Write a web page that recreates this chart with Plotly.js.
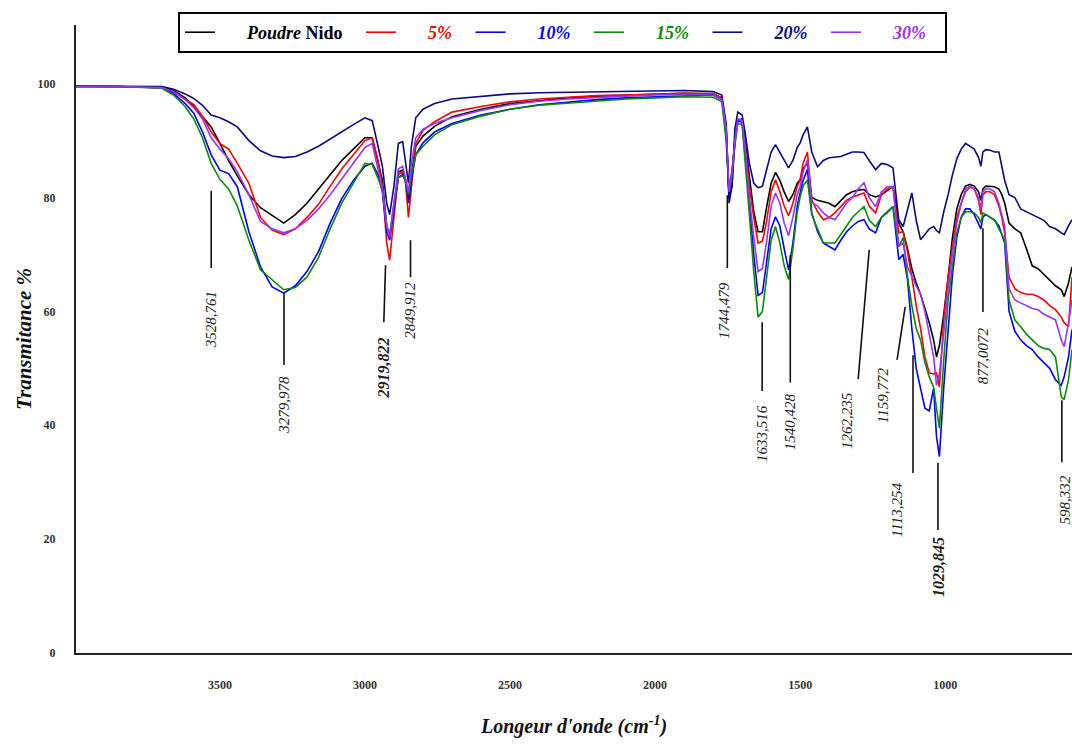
<!DOCTYPE html>
<html>
<head>
<meta charset="utf-8">
<script src="https://cdn.plot.ly/plotly-3.0.1.min.js"></script>
<style>html,body{margin:0;padding:0;background:#fff;}#chart{width:1072px;height:744px;}</style>
</head>
<body>
<div id="chart"></div>
<script>
// Wavenumber grid (cm-1)
const wavenumber = [4000,3850,3700,3660,3620,3590,3560,3530,3500,3470,
3440,3400,3360,3320,3280,3240,3200,3160,3120,3080,
3040,3000,2975,2955,2940,2925,2915,2900,2885,2870,
2860,2850,2840,2825,2800,2760,2700,2600,2500,2400,
2300,2200,2100,2000,1900,1800,1770,1755,1745,1735,
1725,1715,1700,1690,1675,1660,1645,1630,1615,1600,
1585,1570,1555,1540,1525,1510,1500,1490,1475,1460,
1440,1420,1400,1380,1360,1340,1320,1300,1280,1262,
1240,1220,1200,1180,1160,1145,1130,1115,1100,1085,
1070,1055,1040,1030,1020,1005,990,975,960,945,
930,915,900,885,877,870,860,845,830,815,
805,795,780,760,740,720,700,680,660,640,
620,600,590,575,563];

const poudreNido = [99.5,99.5,99.4,98.8,97.5,96.0,94.2,92.4,89.5,86.5,
83.8,80.5,78.2,76.8,75.5,77.0,79.0,81.5,84.0,86.5,
88.5,90.5,90.5,86.0,83.0,75.0,73.0,78.0,84.5,84.8,
83.0,79.5,84.0,89.0,90.8,92.5,94.2,95.5,96.5,97.0,
97.5,97.8,98.0,98.2,98.3,98.2,97.5,92.0,80.0,82.0,
90.0,93.5,93.8,90.0,83.5,77.5,74.0,74.0,78.5,82.5,
84.4,83.0,81.0,79.3,80.5,82.5,83.1,85.0,86.1,80.0,
79.5,79.3,79.0,78.4,79.5,80.5,81.0,81.3,81.4,80.5,
80.1,80.5,81.2,81.9,75.5,74.0,71.0,67.5,65.0,63.0,
60.5,58.0,55.0,52.0,54.0,59.5,66.0,73.0,78.0,80.5,
82.0,82.3,82.0,81.0,79.5,81.5,82.0,82.0,81.9,81.5,
80.5,79.0,75.5,74.5,73.8,71.0,68.0,67.5,66.5,65.6,
64.5,63.8,62.6,65.0,67.8];

const pct5 = [99.5,99.5,99.3,98.6,97.3,96.3,94.3,91.5,89.5,88.5,
86.0,82.5,76.5,74.3,73.5,74.5,76.5,78.8,82.0,85.0,
87.5,90.0,90.5,86.5,82.0,72.0,69.0,76.0,84.0,84.5,
82.5,76.5,82.0,89.5,91.8,93.3,95.0,96.0,96.8,97.3,
97.6,97.9,98.0,98.2,98.3,98.2,97.5,92.0,81.0,84.0,
90.0,93.8,93.5,89.0,82.0,76.5,72.0,72.3,76.0,81.0,
83.1,81.0,78.5,76.8,79.0,82.0,83.1,86.0,88.0,79.6,
77.5,76.1,76.5,77.3,78.5,79.5,80.1,80.5,80.8,78.5,
77.3,80.5,81.5,81.9,73.8,74.0,70.5,66.0,61.0,57.0,
52.0,49.2,49.0,49.2,46.7,58.5,66.0,71.4,76.5,79.0,
81.0,81.8,81.5,79.5,77.0,80.5,81.0,81.0,80.5,78.5,
76.5,73.8,66.0,64.0,63.3,63.0,63.0,62.6,62.0,61.0,
60.3,59.0,58.0,57.3,66.0];

const pct10 = [99.5,99.5,99.3,98.3,96.5,94.8,91.5,87.5,84.8,84.2,
81.9,74.0,67.8,64.3,63.2,64.5,67.0,70.5,75.5,79.8,
83.0,85.5,86.0,84.0,81.0,74.0,72.5,78.0,83.5,84.0,
83.0,79.0,83.0,87.5,89.6,91.5,93.0,94.5,95.5,96.3,
96.8,97.2,97.5,97.7,97.9,98.0,97.2,91.0,80.5,84.0,
90.0,93.5,93.2,88.0,79.0,70.0,62.8,63.3,69.0,74.5,
76.6,75.0,71.0,67.3,72.0,78.5,80.8,83.0,84.9,77.3,
74.0,72.0,71.4,70.8,72.5,74.0,75.0,75.8,76.1,74.5,
73.8,76.5,77.5,78.4,69.1,70.0,65.6,57.0,50.0,46.7,
43.0,42.5,46.5,38.0,34.5,46.7,57.5,66.5,73.0,76.5,
78.0,78.0,77.0,75.5,74.5,76.6,77.0,76.5,76.0,75.0,
73.5,72.0,60.0,56.5,55.0,54.0,53.3,52.0,51.0,50.0,
48.0,47.0,48.5,52.0,56.8];

const pct15 = [99.5,99.5,99.2,98.0,96.0,93.8,90.5,86.0,83.2,81.5,
78.5,72.5,67.3,65.5,63.8,64.2,66.0,69.5,74.5,79.0,
82.5,86.0,85.8,83.5,81.5,75.0,73.5,79.0,83.5,83.8,
83.0,80.5,84.0,87.5,89.0,91.0,92.8,94.3,95.5,96.2,
96.6,97.0,97.3,97.5,97.7,97.6,96.8,90.0,81.0,85.0,
89.5,93.0,92.8,87.0,77.0,67.0,59.0,60.0,66.5,72.5,
74.9,72.0,68.0,65.6,71.0,77.5,80.1,82.0,83.1,77.0,
74.5,72.0,72.0,72.0,73.5,75.0,76.5,77.5,78.4,76.0,
74.9,76.5,77.3,78.4,71.4,73.0,66.1,61.0,57.0,55.0,
51.0,48.5,46.7,43.0,39.5,51.5,62.0,68.0,73.8,76.5,
77.5,77.5,77.3,76.5,75.5,77.3,77.0,76.5,76.1,74.5,
73.5,72.6,62.0,58.5,57.3,56.0,55.0,54.0,53.5,53.3,
52.0,45.0,44.5,48.0,53.3];

const pct20 = [99.6,99.6,99.5,99.0,98.2,97.4,96.2,94.5,94.0,93.3,
92.4,90.0,88.2,87.3,87.0,87.2,88.0,89.0,90.3,91.5,
92.8,94.0,93.5,89.0,85.5,79.0,77.0,82.0,89.5,89.8,
86.0,82.5,89.0,94.0,95.5,96.5,97.3,97.8,98.2,98.4,
98.5,98.6,98.7,98.7,98.8,98.6,98.0,93.0,79.0,82.0,
92.0,95.0,94.5,91.5,86.0,82.5,81.7,82.0,85.0,88.0,
89.3,88.0,86.5,85.2,86.5,88.8,89.6,91.0,92.4,88.0,
85.4,86.5,87.0,87.1,87.2,87.6,88.0,88.0,87.9,86.5,
84.9,86.0,85.8,85.2,76.1,74.9,78.0,80.8,76.0,72.6,
73.5,74.5,74.9,74.2,73.8,77.5,80.5,84.0,86.8,88.5,
89.5,89.0,88.5,87.0,85.5,88.0,88.4,88.3,88.0,88.0,
85.5,83.0,80.5,80.0,78.0,77.5,77.0,76.6,76.0,74.9,
74.5,73.8,73.5,75.0,76.1];

const pct30 = [99.5,99.5,99.3,98.6,97.2,95.8,93.8,90.5,88.5,86.8,
84.5,80.5,75.8,74.5,73.8,74.5,76.0,78.0,80.5,83.3,
86.0,88.8,89.5,85.0,81.5,75.0,73.0,79.0,85.0,85.5,
83.0,81.0,86.0,90.5,92.0,93.0,94.0,95.3,96.3,96.9,
97.3,97.6,97.8,98.0,98.1,98.0,97.3,92.0,81.0,84.0,
90.0,93.8,93.5,89.0,80.0,73.0,67.0,67.5,72.5,78.5,
80.8,79.0,75.5,73.3,76.5,80.5,81.9,84.5,86.6,79.1,
78.5,77.3,76.5,76.1,77.5,79.0,80.0,81.5,82.6,80.0,
78.4,81.0,81.9,81.9,71.4,72.0,67.8,66.0,64.5,63.0,
60.0,56.0,52.0,47.0,49.0,56.2,64.0,70.0,75.5,79.0,
81.5,82.0,81.5,80.0,78.0,81.0,81.5,81.5,81.0,79.0,
77.0,74.9,64.0,62.0,61.5,61.0,60.5,60.3,59.5,59.0,
58.5,55.0,53.8,58.0,62.0];

const seriesNames = ['Poudre <span style="font-style:normal">Nido</span>', '5%', '10%', '15%', '20%', '30%'];
const seriesValues = [poudreNido, pct5, pct10, pct15, pct20, pct30];
const seriesColors = ['#000000', '#ff0000', '#0000ff', '#0a8a0a', '#0a0a80', '#9933ff'];

const xTicks = [3500, 3000, 2500, 2000, 1500, 1000];
const yTicks = [0, 20, 40, 60, 80, 100];

// Peak labels (band positions, cm-1)
const peakLabels = ['3528,761','3279,978','2919,822','2849,912','1744,479','1633,516','1540,428','1262,235','1159,772','1113,254','1029,845','877,0072','598,332'];
const peakBold = [false,false,true,false,false,false,false,false,false,false,true,false,false];

// Placement of leader lines and labels (layout only)
const leaderX0 = [3530,3279,2929,2843,1751,1631,1534,1262,1138,1111,1025,870,598];
const leaderX1 = [3530,3279,2935,2843,1751,1631,1534,1300,1166,1111,1025,870,598];
const leaderY0 = [81.2,63.4,68.1,72.5,80.4,58.1,69.9,70.8,60.8,52.3,33.4,74.6,44.4];
const leaderY1 = [67.6,50.6,58.1,66.0,67.6,46.0,47.5,48.1,51.5,31.6,21.6,59.9,33.5];
const labelX   = [3530,3279,2935,2843,1760,1631,1534,1341,1214,1166,1025,870,588];
const labelY   = [58.5,43.6,50.1,60.2,60.2,38.5,40.6,40.8,45.3,25.1,15.1,52.3,26.9];

const padL = '\u00a0\u00a0\u00a0\u00a0\u00a0\u00a0';
const padR = '\u00a0\u00a0\u00a0';
const traces = seriesValues.map((vals, i) => ({
  type: 'scatter', mode: 'lines',
  x: wavenumber, y: vals,
  name: padL + '<span style="color:' + seriesColors[i] + '">' + seriesNames[i] + '</span>' + padR,
  line: {color: seriesColors[i], width: 1.6}
}));

const shapes = peakLabels.map((_, i) => ({
  type: 'line', xref: 'x', yref: 'y',
  x0: leaderX0[i], x1: leaderX1[i], y0: leaderY0[i], y1: leaderY1[i],
  line: {color: '#111', width: 1.6}
}));

const annotations = peakLabels.map((t, i) => ({
  xref: 'x', yref: 'y', x: labelX[i], y: labelY[i],
  text: peakBold[i] ? '<b>' + t + '</b>' : t,
  textangle: -90, showarrow: false,
  font: {family: 'Liberation Serif, Times New Roman, serif', size: peakBold[i] ? 16 : 15, color: '#222', style: 'italic'}
}));

const layout = {
  width: 1072, height: 744,
  margin: {l: 76, r: 0, t: 25, b: 91},
  paper_bgcolor: '#fff', plot_bgcolor: '#fff',
  showlegend: true,
  legend: {
    orientation: 'h', x: 0.1024, xanchor: 'left', y: 1.0207, yanchor: 'top',
    bgcolor: '#fff', bordercolor: '#000', borderwidth: 2,
    font: {family: 'Liberation Serif, Times New Roman, serif', size: 18, color: '#000', style: 'italic', weight: 'bold'},
    itemwidth: 30, traceorder: 'normal'
  },
  xaxis: {
    range: [3996, 563], showgrid: false, zeroline: false,
    showline: true, linecolor: '#222', linewidth: 2,
    tickmode: 'array', tickvals: xTicks, ticktext: xTicks.map(String),
    ticks: 'outside', ticklen: 20, tickcolor: 'rgba(0,0,0,0)',
    tickfont: {family: 'Liberation Serif, Times New Roman, serif', size: 12, color: '#333', weight: 'bold'},
    title: {text: "Longeur d'onde (cm<sup>-1</sup>)", standoff: 28,
      font: {family: 'Liberation Serif, Times New Roman, serif', size: 20, color: '#111', style: 'italic', weight: 'bold'}}
  },
  yaxis: {
    range: [0, 110.3], showgrid: false, zeroline: false,
    showline: true, linecolor: '#222', linewidth: 2,
    tickmode: 'array', tickvals: yTicks, ticktext: yTicks.map(String),
    ticks: 'outside', ticklen: 16, tickcolor: 'rgba(0,0,0,0)',
    tickfont: {family: 'Liberation Serif, Times New Roman, serif', size: 12, color: '#333', weight: 'bold'},
    title: {text: 'Transmitance %', standoff: 0,
      font: {family: 'Liberation Serif, Times New Roman, serif', size: 21, color: '#111', style: 'italic', weight: 'bold'}}
  },
  shapes: shapes,
  annotations: annotations
};

Plotly.newPlot('chart', traces, layout, {displayModeBar: false, staticPlot: true});
</script>
</body>
</html>
